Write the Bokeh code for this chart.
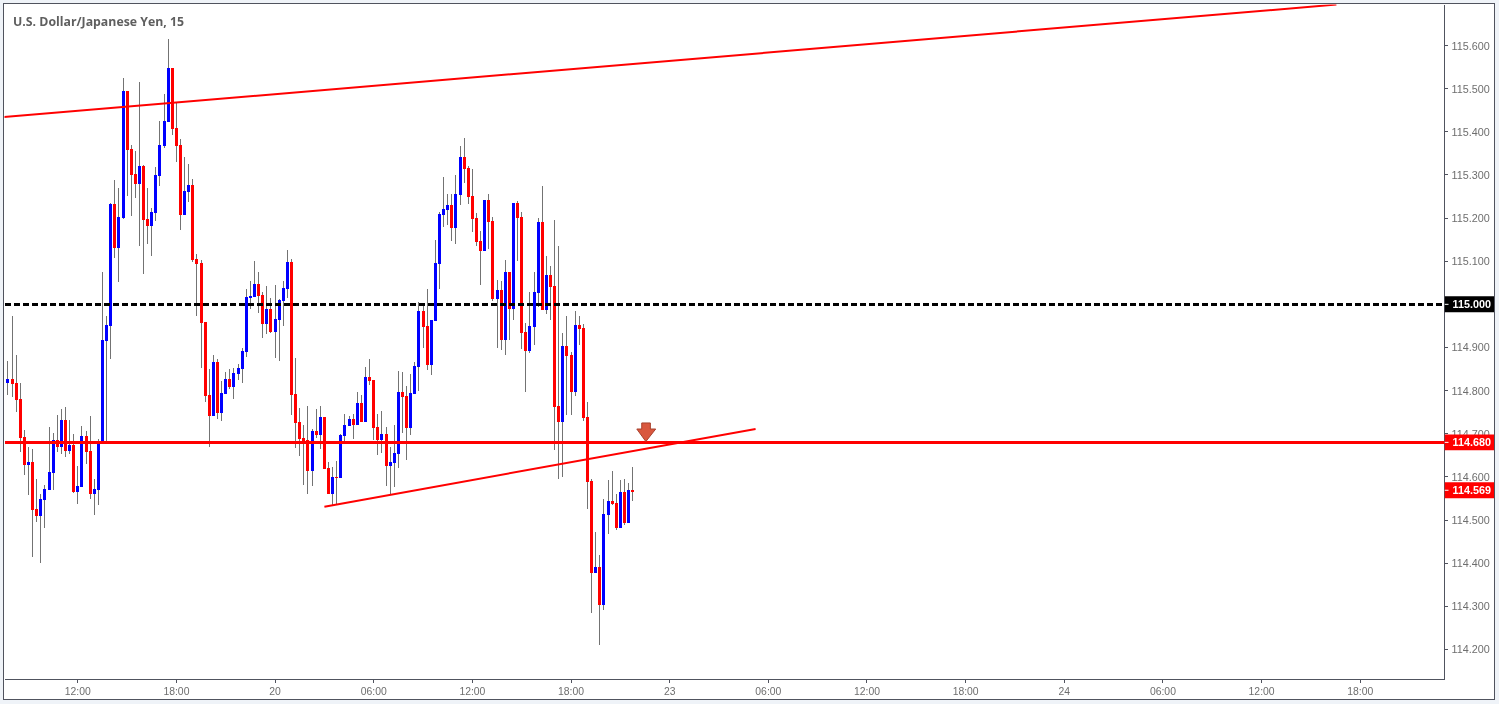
from bokeh.plotting import figure
from bokeh.layouts import row
from bokeh.models import ColumnDataSource, FixedTicker, Label, Span, PrintfTickFormatter, Range1d
from bokeh.core.properties import value
from bokeh.embed import file_html
from bokeh.resources import INLINE

FIRST_BAR = -17

opens = [
 114.818,114.827,114.818,114.781,114.693,114.628,114.635,114.526,114.510,114.547,
 114.570,114.609,114.686,114.670,114.732,114.660,114.674,114.566,114.577,114.695,
 114.660,114.561,114.570,114.677,114.915,114.950,115.232,115.130,115.200,115.494,
 115.360,115.302,115.279,115.320,115.198,115.181,115.211,115.297,115.367,115.422,
 115.547,115.408,115.369,115.207,115.260,115.276,115.105,115.096,114.959,114.790,
 114.742,114.867,114.748,114.792,114.827,114.809,114.839,114.850,114.890,115.015,
 115.017,115.047,115.022,114.954,114.989,114.936,114.964,115.008,115.035,115.098,
 114.792,114.728,114.691,114.686,114.614,114.707,114.698,114.739,114.621,114.561,
 114.600,114.598,114.695,114.718,114.735,114.721,114.772,114.728,114.832,114.825,
 114.716,114.686,114.700,114.626,114.633,114.654,114.797,114.788,114.714,114.792,
 114.855,114.985,114.950,114.860,114.961,115.093,115.207,115.218,115.230,115.177,
 115.253,115.341,115.316,115.251,115.200,115.147,115.123,115.242,115.193,115.012,
 115.033,114.917,115.075,114.989,115.235,115.202,114.936,114.892,114.948,115.026,
 115.191,114.987,115.068,115.042,114.765,114.728,114.904,114.883,114.797,114.952,
 114.945,114.739,114.591,114.378,114.392,114.302,114.512,114.545,114.540,114.482,
 114.566,114.492,114.570]
highs = [
 114.869,114.973,114.883,114.818,114.709,114.670,114.665,114.595,114.561,114.582,
 114.716,114.702,114.744,114.758,114.762,114.732,114.700,114.626,114.718,114.707,
 114.742,114.595,114.688,115.074,114.973,115.235,115.288,115.269,115.524,115.494,
 115.369,115.355,115.515,115.323,115.269,115.223,115.318,115.424,115.487,115.614,
 115.549,115.466,115.383,115.341,115.325,115.290,115.117,115.103,114.959,114.850,
 114.883,114.873,114.823,114.843,114.850,114.853,114.862,114.899,115.035,115.054,
 115.100,115.075,115.029,115.042,115.015,115.045,115.012,115.054,115.126,115.105,
 114.876,114.760,114.721,114.765,114.710,114.758,114.765,114.739,114.635,114.623,
 114.637,114.700,114.746,114.740,114.746,114.797,114.790,114.855,114.873,114.825,
 114.746,114.753,114.716,114.670,114.721,114.846,114.843,114.811,114.839,114.867,
 115.005,115.000,115.035,114.964,115.149,115.214,115.295,115.255,115.255,115.299,
 115.367,115.385,115.320,115.313,115.211,115.170,115.242,115.255,115.202,115.056,
 115.054,115.103,115.075,115.235,115.239,115.214,114.957,115.029,115.075,115.200,
 115.274,115.112,115.089,115.195,115.135,114.934,114.973,114.890,114.985,114.973,
 114.954,114.774,114.596,114.473,114.420,114.549,114.593,114.614,114.561,114.593,
 114.596,114.586,114.623]
lows = [
 114.790,114.786,114.751,114.658,114.605,114.558,114.415,114.496,114.401,114.482,
 114.570,114.570,114.658,114.654,114.647,114.654,114.563,114.538,114.577,114.630,
 114.549,114.512,114.535,114.677,114.677,114.873,115.107,115.052,115.198,115.251,
 115.204,115.246,115.135,115.070,115.140,115.112,115.193,115.274,115.362,115.422,
 115.392,115.329,115.172,115.207,115.237,115.098,114.973,114.853,114.774,114.670,
 114.742,114.735,114.730,114.792,114.804,114.781,114.825,114.818,114.878,114.989,
 115.017,114.980,114.922,114.931,114.934,114.876,114.869,114.950,115.015,114.744,
 114.667,114.649,114.582,114.561,114.579,114.691,114.665,114.619,114.561,114.535,
 114.538,114.598,114.677,114.718,114.688,114.721,114.728,114.728,114.813,114.686,
 114.651,114.656,114.579,114.559,114.577,114.621,114.702,114.640,114.698,114.792,
 114.800,114.899,114.848,114.836,114.961,115.035,115.179,115.184,115.147,115.140,
 115.230,115.281,115.232,115.167,115.135,115.045,115.123,115.128,115.008,114.899,
 114.894,114.883,114.917,114.964,115.100,114.897,114.797,114.887,114.906,114.994,
 114.987,114.978,114.964,114.663,114.596,114.600,114.744,114.744,114.788,114.906,
 114.730,114.526,114.285,114.378,114.211,114.292,114.468,114.535,114.478,114.482,
 114.489,114.492,114.545]
closes = [
 114.827,114.816,114.778,114.690,114.628,114.635,114.524,114.510,114.549,114.572,
 114.612,114.686,114.670,114.732,114.660,114.674,114.566,114.579,114.695,114.658,
 114.561,114.572,114.679,114.917,114.952,115.232,115.130,115.202,115.494,115.357,
 115.299,115.279,115.320,115.195,115.181,115.214,115.299,115.369,115.424,115.547,
 115.406,115.367,115.207,115.262,115.276,115.103,115.093,114.957,114.788,114.742,
 114.867,114.748,114.795,114.827,114.809,114.841,114.853,114.892,115.017,115.019,
 115.047,115.019,114.954,114.989,114.936,114.966,115.010,115.038,115.098,114.790,
 114.725,114.688,114.684,114.614,114.707,114.698,114.739,114.619,114.561,114.600,
 114.598,114.698,114.721,114.735,114.721,114.772,114.728,114.832,114.823,114.714,
 114.686,114.700,114.626,114.635,114.656,114.797,114.785,114.714,114.795,114.857,
 114.985,114.948,114.860,114.964,115.096,115.209,115.221,115.230,115.177,115.255,
 115.341,115.313,115.248,115.198,115.144,115.123,115.242,115.191,115.012,115.033,
 114.917,115.075,114.989,115.235,115.200,114.934,114.892,114.950,115.029,115.191,
 114.987,115.068,115.040,114.762,114.728,114.904,114.880,114.797,114.952,114.943,
 114.737,114.589,114.378,114.392,114.302,114.515,114.545,114.538,114.482,114.566,
 114.492,114.570,114.566]

x_ticks = [0, 24, 48, 72, 96, 120, 144, 168, 192, 216, 240, 264, 288, 312]
x_tick_labels = ["12:00", "18:00", "20", "06:00", "12:00", "18:00", "23",
                 "06:00", "12:00", "18:00", "24", "06:00", "12:00", "18:00"]
y_ticks = [114.2, 114.3, 114.4, 114.5, 114.6, 114.7, 114.8, 114.9,
           115.0, 115.1, 115.2, 115.3, 115.4, 115.5, 115.6]

resistance_x = [-18.1, 306.2]
resistance_y = [115.434, 115.695]
support_x = [60.0, 164.9]
support_y = [114.531, 114.711]
level_black = 115.000
level_red = 114.680
last_price = 114.569
arrow_x = [137.2, 139.3, 139.3, 140.6, 138.2, 136.0, 137.2]
arrow_y = [114.725, 114.725, 114.711, 114.711, 114.682, 114.711, 114.711]
tag_levels = [level_black, level_red, last_price]
tag_colors = ["black", "#ff0000", "#ff0000"]

RED = "#ff0000"
BLUE = "#0000ff"
WICK = "#737373"
AXIS = "#50535e"
LABEL = "#6e6e6e"
FONT_SIZE = "10.8px"

x_range = Range1d(-17.83, 332.5)
y_range = Range1d(114.1303, 115.6951)

n = len(opens)
idx = [FIRST_BAR + i for i in range(n)]
src = ColumnDataSource(dict(
    x=idx, high=highs, low=lows,
    top=[max(o, c) for o, c in zip(opens, closes)],
    bottom=[min(o, c) for o, c in zip(opens, closes)],
    color=[BLUE if c > o else RED for o, c in zip(opens, closes)],
))

p = figure(width=1490, height=695, output_backend="svg", toolbar_location=None,
           x_range=x_range, y_range=y_range,
           y_axis_location="right", min_border_left=0, min_border_top=0,
           min_border_right=50, min_border_bottom=19,
           background_fill_color="white", border_fill_color="white",
           outline_line_color=None)
p.styles = {"position": "fixed", "left": "4px", "top": "4px",
            "outline": "1px solid " + AXIS,
            "box-shadow": "0 0 0 12px #eff3f8",
            "shape-rendering": "crispEdges"}
p.grid.visible = False

p.xaxis.ticker = FixedTicker(ticks=x_ticks)
p.xaxis.major_label_overrides = dict(zip(x_ticks, x_tick_labels))
p.yaxis.ticker = FixedTicker(ticks=y_ticks)
p.yaxis.formatter = PrintfTickFormatter(format="%.3f")
for ax in (p.xaxis[0], p.yaxis[0]):
    ax.axis_line_color = AXIS
    ax.axis_line_width = 1
    ax.major_tick_line_color = AXIS
    ax.major_tick_out = 3
    ax.major_tick_in = 0
    ax.minor_tick_line_color = None
    ax.major_label_text_color = LABEL
    ax.major_label_text_font = "Liberation Sans"
p.xaxis.major_label_text_font_size = "10.4px"
p.yaxis.major_label_text_font_size = FONT_SIZE
p.xaxis.major_label_standoff = 3
p.yaxis.major_label_standoff = 4

p.segment("x", "high", "x", "low", source=src, line_color=WICK, line_width=1)
p.vbar(x="x", width=0.73, top="top", bottom="bottom", source=src,
       fill_color="color", line_color=None)
p.add_layout(Span(location=level_red, dimension="width", line_color=RED, line_width=3))
p.add_layout(Span(location=level_black, dimension="width", line_color="black",
                  line_width=3, line_dash="6 3"))
p.add_layout(Label(x=8.5, x_units="screen", y=115.656,
                   text="U.S. Dollar/Japanese Yen, 15", text_baseline="middle",
                   text_font="Open Sans", text_font_style="bold",
                   text_font_size="12.3px", text_color="#5f5f5f"))

# Transparent overlay on the chart area: the drawn trend lines and the arrow.
draw = figure(width=1440, height=695, output_backend="svg", toolbar_location=None,
              x_range=x_range, y_range=y_range, x_axis_type=None, y_axis_type=None,
              min_border_left=0, min_border_top=0, min_border_right=0, min_border_bottom=19,
              background_fill_color=None, border_fill_color=None,
              outline_line_color=None)
draw.styles = {"position": "fixed", "left": "4px", "top": "4px"}
draw.grid.visible = False
draw.line(resistance_x, resistance_y, line_color=RED, line_width=2)
draw.line(support_x, support_y, line_color=RED, line_width=2)
draw.patch(arrow_x, arrow_y, fill_color="#d9573e", line_color="#a8402d", line_width=1)

# Transparent overlay on the price scale: the coloured price tags.
tags = figure(width=50, height=695, output_backend="svg", toolbar_location=None,
              x_range=(0, 50), y_range=y_range, x_axis_type=None, y_axis_type=None,
              min_border_left=0, min_border_top=0, min_border_right=0, min_border_bottom=19,
              background_fill_color=None, border_fill_color=None,
              outline_line_color=None)
tags.styles = {"position": "fixed", "left": "1444px", "top": "4px"}
tags.grid.visible = False
half = 8 / 432
tag_src = ColumnDataSource(dict(
    y=tag_levels, top=[v + half for v in tag_levels], bottom=[v - half for v in tag_levels],
    color=tag_colors, label=["%.3f" % v for v in tag_levels],
    x0=[0] * 3, x1=[50] * 3, tx=[8] * 3, t0=[0] * 3, t1=[4] * 3,
))
tags.quad(left="x0", right="x1", top="top", bottom="bottom", fill_color="color",
          line_color=None, source=tag_src)
tags.segment("t0", "y", "t1", "y", line_color="white", line_width=1, source=tag_src)
tags.text("tx", "y", text="label", source=tag_src, text_color="white",
          text_baseline="middle", text_align="left", text_font=value("Liberation Sans"),
          text_font_style="bold", text_font_size=value(FONT_SIZE))

open("out.html", "w").write(file_html(row(p, draw, tags), INLINE))
